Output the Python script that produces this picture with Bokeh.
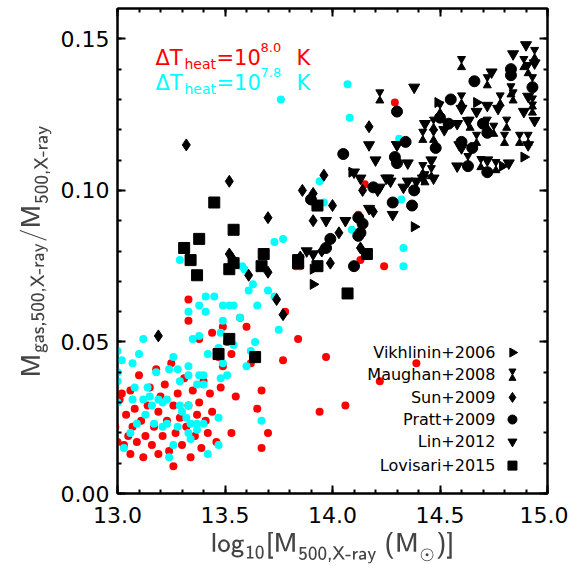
import math
from bokeh.models import (ColumnDataSource, Range1d, LinearAxis, Label, SingleIntervalTicker,
                          CustomJSTickFormatter)
from bokeh.plotting import figure
from bokeh.transform import dodge
from bokeh.embed import file_html
from bokeh.resources import INLINE

# simulations: delta T heat = 10^8.0 K (red) and 10^7.8 K (cyan)
red_x = [12.96, 12.98, 12.99, 13.0, 13.01, 13.02, 13.03, 13.04, 13.05, 13.06, 13.06, 13.07, 13.08, 13.09,
         13.1, 13.11, 13.12, 13.13, 13.14, 13.15, 13.16, 13.17, 13.18, 13.19, 13.19, 13.2, 13.21, 13.22,
         13.23, 13.24, 13.25, 13.26, 13.26, 13.27, 13.28, 13.29, 13.3, 13.31, 13.32, 13.33, 13.34, 13.35,
         13.36, 13.37, 13.38, 13.39, 13.4, 13.41, 13.42, 13.43, 13.44, 13.46, 13.48, 13.49, 13.51, 13.53,
         13.57, 13.33, 13.38, 13.47, 13.49, 13.6, 13.62, 13.65, 13.55, 13.53, 13.67,
         13.70, 13.67, 13.77, 13.85, 13.78, 13.33, 13.44, 13.84, 13.97, 13.94, 14.06, 14.22, 14.39,
         14.29, 14.15, 14.12, 14.13, 14.24, 13.83]
red_y = [0.029, 0.037, 0.022, 0.017, 0.031, 0.033, 0.016, 0.026, 0.019, 0.034, 0.013, 0.022, 0.028, 0.017,
         0.039, 0.024, 0.012, 0.019, 0.029, 0.035, 0.016, 0.022, 0.041, 0.027, 0.013, 0.032, 0.019, 0.036,
         0.024, 0.014, 0.043, 0.029, 0.009, 0.020, 0.033, 0.025, 0.016, 0.038, 0.022, 0.029, 0.012, 0.034,
         0.019, 0.026, 0.030, 0.015, 0.037, 0.024, 0.020, 0.033, 0.027, 0.017, 0.035, 0.042, 0.050, 0.046,
         0.058, 0.064, 0.051, 0.045, 0.055, 0.055, 0.043, 0.028, 0.032, 0.020, 0.015,
         0.020, 0.034, 0.044, 0.075, 0.060, 0.057, 0.053, 0.051, 0.045, 0.027, 0.029, 0.037, 0.043,
         0.129, 0.102, 0.092, 0.077, 0.075, 0.075]

cyan_x = [13.76, 14.07, 14.08, 13.94, 13.92, 13.96, 13.77, 13.73, 13.29, 13.58, 14.09, 14.33, 14.32, 14.33,
          14.31, 13.59, 13.63, 13.61, 13.70, 13.73, 13.75, 13.41, 13.45, 13.33, 13.38, 13.41, 13.49, 13.52,
          13.54, 13.49, 13.57, 13.65, 13.35, 13.38, 13.48, 13.54, 13.64, 13.62, 13.12, 13.10, 13.07, 13.02,
          13.0, 13.0, 13.0, 13.0, 13.26, 13.42, 13.47, 13.49, 13.24, 13.28, 13.33, 13.29, 13.33, 13.38,
          13.40, 13.37, 13.40, 13.48, 13.51, 13.60, 13.18, 13.08, 13.07, 13.12, 13.14, 13.15, 13.19, 13.16,
          13.23, 13.21, 13.13, 13.09, 13.06, 13.17, 13.21, 13.23, 13.28, 13.29, 13.33, 13.30, 13.32, 13.34,
          13.37, 13.40, 13.33, 13.37, 13.34, 13.47, 13.47, 13.42, 13.67, 13.03, 13.26, 13.24]
cyan_y = [0.130, 0.135, 0.124, 0.103, 0.095, 0.096, 0.084, 0.083, 0.077, 0.075, 0.087, 0.081, 0.097, 0.075,
          0.117, 0.074, 0.069, 0.067, 0.067, 0.065, 0.054, 0.065, 0.065, 0.060, 0.062, 0.060, 0.062, 0.062,
          0.062, 0.057, 0.058, 0.062, 0.051, 0.052, 0.053, 0.049, 0.050, 0.047, 0.051, 0.046, 0.043, 0.044,
          0.047, 0.040, 0.037, 0.030, 0.045, 0.046, 0.048, 0.043, 0.041, 0.041, 0.042, 0.037, 0.039, 0.039,
          0.039, 0.036, 0.036, 0.038, 0.039, 0.042, 0.040, 0.035, 0.031, 0.031, 0.035, 0.032, 0.031, 0.029,
          0.031, 0.030, 0.026, 0.023, 0.020, 0.023, 0.022, 0.023, 0.022, 0.029, 0.029, 0.027, 0.025, 0.023,
          0.023, 0.023, 0.020, 0.021, 0.018, 0.025, 0.016, 0.013, 0.024, 0.015, 0.016, 0.012]

# observations
vik_x = [14.38, 14.89, 14.49, 14.67, 14.79, 14.09, 13.91, 13.91]
vik_y = [0.088, 0.111, 0.129, 0.129, 0.108, 0.106, 0.074, 0.069]

mau_x = [14.60, 14.72, 14.89, 14.94, 14.91, 14.93, 14.60, 14.64, 14.42, 14.47, 14.47, 14.50, 14.72, 14.75,
         14.81, 14.80, 14.87, 14.91, 14.78, 14.83, 14.84, 14.93, 14.93, 14.63, 14.69, 14.76, 14.42, 14.46,
         14.43, 14.22, 14.67]
mau_y = [0.142, 0.136, 0.142, 0.145, 0.140, 0.136, 0.130, 0.122, 0.118, 0.118, 0.122, 0.127, 0.122, 0.120,
         0.122, 0.117, 0.117, 0.117, 0.130, 0.133, 0.131, 0.129, 0.127, 0.110, 0.109, 0.108, 0.107, 0.106,
         0.104, 0.131, 0.117]

sun_x = [13.32, 13.52, 13.96, 13.86, 13.91, 14.00, 13.70, 13.91, 14.03, 14.17, 14.14, 14.19, 14.13, 13.53,
         13.95, 13.19, 13.52, 13.61, 13.70, 13.74, 13.77, 13.99, 13.85]
sun_y = [0.115, 0.103, 0.105, 0.100, 0.099, 0.095, 0.091, 0.090, 0.086, 0.121, 0.100, 0.093, 0.081, 0.078,
         0.080, 0.052, 0.079, 0.072, 0.073, 0.064, 0.059, 0.076, 0.078]

pratt_x = [14.55, 14.66, 14.83, 14.83, 14.93, 14.30, 14.34, 14.29, 14.30, 14.38, 14.28, 14.37, 14.48, 14.54,
           14.60, 14.65, 14.63, 14.72, 14.70, 14.72, 14.50, 14.05, 14.19, 14.12, 14.14, 14.13, 14.12, 13.99,
           13.97, 13.90, 14.10]
pratt_y = [0.130, 0.136, 0.140, 0.138, 0.134, 0.126, 0.116, 0.111, 0.109, 0.100, 0.096, 0.095, 0.114, 0.122,
           0.116, 0.114, 0.108, 0.106, 0.122, 0.119, 0.124, 0.112, 0.101, 0.091, 0.089, 0.086, 0.085, 0.084,
           0.081, 0.097, 0.075]

lin_x = [14.90, 14.84, 14.94, 14.74, 14.38, 14.60, 14.67, 14.72, 14.77, 14.89, 14.91, 14.94, 14.43, 14.52,
         14.58, 14.63, 14.30, 14.59, 14.60, 14.35, 14.46, 14.58, 14.72, 14.82, 14.91, 14.25, 14.27, 14.33,
         14.35, 14.39, 14.42, 14.47, 14.28, 14.22, 14.17, 14.30, 14.20, 14.26, 14.21, 14.17, 13.97, 14.06,
         13.88, 13.91, 14.13, 14.10]
lin_y = [0.148, 0.145, 0.142, 0.139, 0.134, 0.127, 0.126, 0.128, 0.127, 0.126, 0.131, 0.123, 0.122, 0.120,
         0.122, 0.123, 0.115, 0.115, 0.114, 0.109, 0.110, 0.108, 0.110, 0.109, 0.115, 0.104, 0.103, 0.101,
         0.103, 0.103, 0.104, 0.104, 0.092, 0.101, 0.115, 0.115, 0.110, 0.104, 0.100, 0.094, 0.090, 0.090,
         0.080, 0.079, 0.104, 0.106]

lov_x = [13.31, 13.38, 13.54, 13.34, 13.37, 13.68, 13.54, 13.52, 13.67, 13.84, 13.52, 13.47, 13.64, 13.45,
         13.93, 13.84, 13.93, 14.16, 14.07]
lov_y = [0.081, 0.084, 0.087, 0.077, 0.072, 0.079, 0.076, 0.074, 0.075, 0.076, 0.051, 0.046, 0.045, 0.096,
         0.095, 0.077, 0.075, 0.079, 0.066]

legend_names = ["Vikhlinin+2006", "Maughan+2008", "Sun+2009", "Pratt+2009", "Lin+2012", "Lovisari+2015"]

FONT = "DejaVu Sans"
RED = "#ff0000"
CYAN = "#00ffff"

p = figure(width=568, height=566, output_backend="svg", toolbar_location=None,
           x_range=Range1d(13.0, 15.0), y_range=Range1d(0.0, 0.16),
           min_border_left=117, min_border_right=21, min_border_top=8, min_border_bottom=73)
p.grid.visible = False
p.outline_line_color = "black"
p.outline_line_width = 2
p.background_fill_color = "white"


def style_axis(ax):
    ax.axis_line_width = 2
    ax.major_tick_in = 8
    ax.major_tick_out = 0
    ax.minor_tick_in = 4
    ax.minor_tick_out = 0
    ax.major_tick_line_width = 2
    ax.minor_tick_line_width = 2
    ax.major_label_text_font = FONT
    ax.major_label_text_font_size = "22px"
    ax.major_label_text_color = "black"


p.xaxis.ticker = SingleIntervalTicker(interval=0.5, num_minor_ticks=5)
p.yaxis.ticker = SingleIntervalTicker(interval=0.05, num_minor_ticks=5)
p.xaxis.major_label_overrides = {13.0: "13.0", 13.5: "13.5", 14.0: "14.0", 14.5: "14.5", 15.0: "15.0"}
p.yaxis.major_label_overrides = {0: "0.00", 0.05: "0.05", 0.1: "0.10", 0.15: "0.15"}
style_axis(p.xaxis[0])
style_axis(p.yaxis[0])
p.xaxis.major_label_standoff = 13
p.yaxis.major_label_standoff = 8
p.xaxis.axis_label = r"$$\mathsf{log}_{\mathsf{10}}\mathsf{[M}_{\mathsf{500,X\text{-}ray}}\ \mathsf{(M}_\odot\mathsf{)]}$$"
p.yaxis.axis_label = r"$$\mathsf{M}_{\mathsf{gas,500,X\text{-}ray}}\mathsf{/M}_{\mathsf{500,X\text{-}ray}}$$"
p.xaxis.axis_label_text_font_size = "22px"
p.yaxis.axis_label_text_font_size = "22px"
p.xaxis.axis_label_standoff = 6
p.yaxis.axis_label_standoff = 6

# tick-only axes on top and right
blank = CustomJSTickFormatter(code="return ''")
top = LinearAxis(ticker=SingleIntervalTicker(interval=0.5, num_minor_ticks=5), formatter=blank)
right = LinearAxis(ticker=SingleIntervalTicker(interval=0.05, num_minor_ticks=5), formatter=blank)
style_axis(top)
style_axis(right)
top.major_label_standoff = 0
right.major_label_standoff = 0
p.add_layout(top, "above")
p.add_layout(right, "right")

# simulation points
p.scatter(red_x, red_y, marker="circle", size=8, color=RED, line_color=None)
p.scatter(cyan_x, cyan_y, marker="circle", size=8, color=CYAN, line_color=None)

# observed samples
blk = dict(color="black", line_color="black")
p.scatter(vik_x, vik_y, marker="triangle", angle=-math.pi / 2, size=10, **blk)
mau = ColumnDataSource(dict(x=mau_x, y=mau_y))
p.scatter("x", dodge("y", 0.0014, range=p.y_range), source=mau, marker="inverted_triangle", size=8, **blk)
p.scatter("x", dodge("y", -0.0014, range=p.y_range), source=mau, marker="triangle", size=8, **blk)
p.scatter(sun_x, sun_y, marker="diamond", size=12, **blk)
p.scatter(pratt_x, pratt_y, marker="circle", size=11, **blk)
p.scatter(lin_x, lin_y, marker="inverted_triangle", size=11, **blk)
p.scatter(lov_x, lov_y, marker="square", size=11, **blk)

# legend (text right aligned, marker to the right)
leg_markers = ["triangle", "hourglass", "diamond", "circle", "inverted_triangle", "square"]
leg_y = [0.0465, 0.0392, 0.0317, 0.0244, 0.0171, 0.0092]
for name, mk, ly in zip(legend_names, leg_markers, leg_y):
    p.add_layout(Label(x=14.758, y=ly, text=name, text_align="right", text_baseline="middle",
                       text_font=FONT, text_font_size="16px", text_color="black"))
    if mk == "triangle":
        p.scatter([14.837], [ly], marker="triangle", angle=-math.pi / 2, size=9, **blk)
    elif mk == "hourglass":
        p.scatter([14.837], [ly + 0.0012], marker="inverted_triangle", size=7, **blk)
        p.scatter([14.837], [ly - 0.0012], marker="triangle", size=7, **blk)
    elif mk == "diamond":
        p.scatter([14.837], [ly], marker="diamond", size=10, **blk)
    else:
        p.scatter([14.837], [ly], marker=mk, size=9, **blk)


def put(parts, ix, iy, color="black"):
    # parts: (text, font size, vertical shift, horizontal advance after it), all in px
    x = 13 + (ix - 117) / 215.0
    y = (493 - iy) / 3033.0
    adv = 0.0
    for text, size, shift, w in parts:
        p.add_layout(Label(x=x, y=y, x_offset=adv, y_offset=shift, text=text,
                           text_font=FONT, text_font_size=f"{size}px", text_color=color,
                           text_baseline="alphabetic", text_align="left"))
        adv += w


put([("ΔT", 21, 0, 29), ("heat", 14, -6, 32), ("=10", 21, 0, 44), ("8.0", 13, 10, 36), ("K", 21, 0, 0)],
    155, 57, RED)
put([("ΔT", 21, 0, 29), ("heat", 14, -6, 32), ("=10", 21, 0, 44), ("7.8", 13, 10, 36), ("K", 21, 0, 0)],
    155, 82, CYAN)

open("out.html", "w").write(file_html(p, INLINE))
